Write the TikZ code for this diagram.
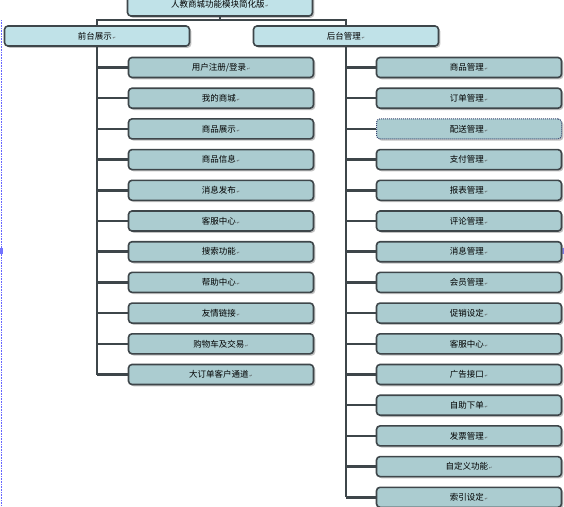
\documentclass[tikz,border=0pt]{standalone}
\usepackage{fontspec}
\setmainfont{Noto Sans CJK SC}
\newfontfamily\markfont{DejaVu Sans}
\usetikzlibrary{shadows}
\definecolor{boxfill}{RGB}{171,204,208}
\definecolor{topfill}{RGB}{192,226,232}
\definecolor{boxline}{RGB}{62,70,74}
\definecolor{selline}{RGB}{50,68,110}
\newcommand{\pmark}{{\markfont\fontsize{4}{4}\selectfont\color{black!70}\,↵}}
\tikzset{
  itembox/.style={draw=boxline,line width=1.6pt,rounded corners=3.5pt,fill=boxfill,
    minimum width=185pt,minimum height=20pt,inner sep=0pt,
    font=\fontsize{8.5}{9}\selectfont,
    drop shadow={shadow xshift=1.8pt,shadow yshift=-1.8pt,fill=black!40,opacity=0.6}},
  topbox/.style={itembox,fill=topfill},
  selbox/.style={itembox,draw=selline,line width=1pt,densely dotted},
  link/.style={draw=boxline,line width=2.5pt}
}
\begin{document}
\begin{tikzpicture}[x=1pt,y=-1pt]
  \useasboundingbox (0,0) rectangle (564,506);
  \clip (0,0) rectangle (564,506);
  % selection marks on the edges
  \draw[blue!60,densely dotted,line width=0.6pt] (1,20) -- (1,506);
  \fill[blue!55] (0,248) rectangle (3,254);
  \fill[blue!55] (562,248) rectangle (564,254);

  % top level
  \node[topbox,minimum height=24pt] (root) at (220,4){人教商城功能模块简化版\pmark};
  \node[topbox] (front) at (97,36){前台展示\pmark};
  \node[topbox] (back) at (346,36){后台管理\pmark};
  \coordinate (rootjoin) at (220,20);

  % front items
  \node[itembox] (f1) at (221,67.5){用户注册/登录\pmark};
  \node[itembox] (f2) at (221,98.2){我的商城\pmark};
  \node[itembox] (f3) at (221,128.9){商品展示\pmark};
  \node[itembox] (f4) at (221,159.6){商品信息\pmark};
  \node[itembox] (f5) at (221,190.3){消息发布\pmark};
  \node[itembox] (f6) at (221,221){客服中心\pmark};
  \node[itembox] (f7) at (221,251.7){搜索功能\pmark};
  \node[itembox] (f8) at (221,282.4){帮助中心\pmark};
  \node[itembox] (f9) at (221,313.1){友情链接\pmark};
  \node[itembox] (f10) at (221,343.8){购物车及交易\pmark};
  \node[itembox] (f11) at (221,374.5){大订单客户通道\pmark};

  % back items
  \node[itembox] (b1) at (469,67.5){商品管理\pmark};
  \node[itembox] (b2) at (469,98.2){订单管理\pmark};
  \node[selbox] (b3) at (469,128.9){配送管理\pmark};
  \node[itembox] (b4) at (469,159.6){支付管理\pmark};
  \node[itembox] (b5) at (469,190.3){报表管理\pmark};
  \node[itembox] (b6) at (469,221){评论管理\pmark};
  \node[itembox] (b7) at (469,251.7){消息管理\pmark};
  \node[itembox] (b8) at (469,282.4){会员管理\pmark};
  \node[itembox] (b9) at (469,313.1){促销设定\pmark};
  \node[itembox] (b10) at (469,343.8){客服中心\pmark};
  \node[itembox] (b11) at (469,374.5){广告接口\pmark};
  \node[itembox] (b12) at (469,405.2){自助下单\pmark};
  \node[itembox] (b13) at (469,435.9){发票管理\pmark};
  \node[itembox] (b14) at (469,466.6){自定义功能\pmark};
  \node[itembox] (b15) at (469,497.3){索引设定\pmark};

  % connectors
  \draw[link] (root.south) -- (rootjoin);
  \draw[link] (rootjoin) -| (front.north);
  \draw[link] (rootjoin) -| (back.north);
  \draw[link] (front.south) -- (front.south |- f11.west);
  \draw[link] (back.south) -- (back.south |- b15.west);
  \foreach \i in {1,...,11}
    \draw[link] (front.south |- f\i.west) -- (f\i.west);
  \foreach \i in {1,...,15}
    \draw[link] (back.south |- b\i.west) -- (b\i.west);
\end{tikzpicture}
\end{document}
